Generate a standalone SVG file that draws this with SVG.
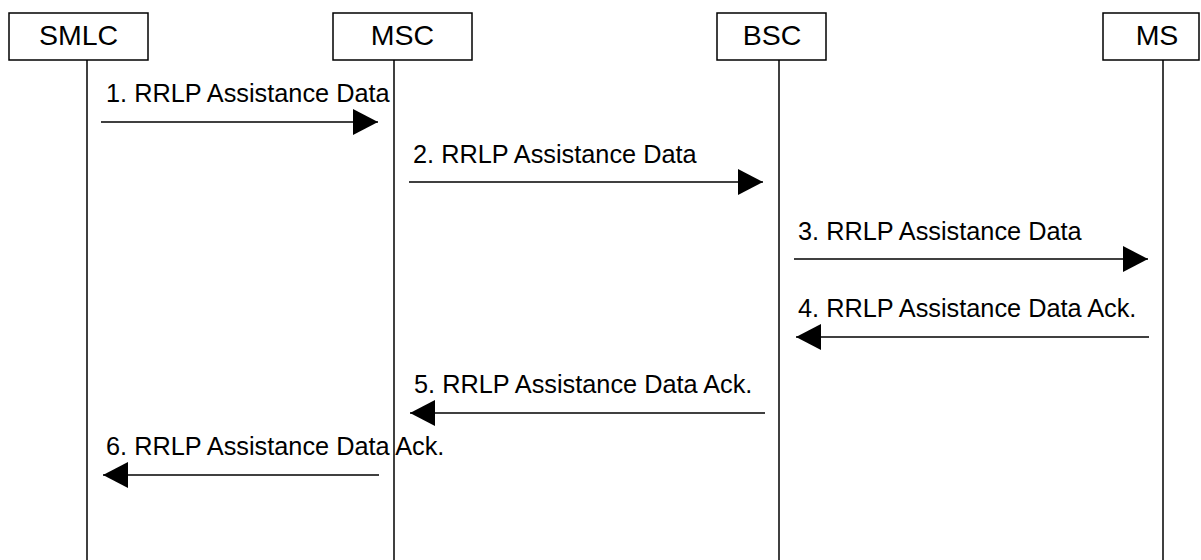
<svg xmlns="http://www.w3.org/2000/svg" width="1201" height="560" viewBox="0 0 1201 560">
<style>
.box{fill:#fff;stroke:#000;stroke-width:1.5}
.life{stroke:#000;stroke-width:1.5;fill:none}
.msg{stroke:#000;stroke-width:1.5;fill:none}
text{font-family:"Liberation Sans",Arial,sans-serif;font-size:25.3px;fill:#000}
.nm{text-anchor:middle;font-size:28.5px}
</style>
<defs>
<marker id="ah" markerUnits="userSpaceOnUse" markerWidth="26" markerHeight="26" viewBox="0 0 26 26" refX="25" refY="13" orient="auto">
<polygon points="0,0 25,13 0,26" fill="#000"/>
</marker>
</defs>
<rect width="1201" height="560" fill="#fff"/>
<g id="lifelines">
<line class="life" x1="87" y1="60" x2="87" y2="560"/>
<line class="life" x1="394" y1="60" x2="394" y2="560"/>
<line class="life" x1="779" y1="60" x2="779" y2="560"/>
<line class="life" x1="1163" y1="60" x2="1163" y2="560"/>
</g>
<g id="SMLC"><rect class="box" x="9" y="13" width="139" height="47"/><text class="nm" x="78.5" y="45">SMLC</text></g>
<g id="MSC"><rect class="box" x="333" y="13" width="139" height="47"/><text class="nm" x="402.5" y="45">MSC</text></g>
<g id="BSC"><rect class="box" x="717" y="13" width="109" height="47"/><text class="nm" x="772" y="45">BSC</text></g>
<g id="MS"><rect class="box" x="1103" y="13" width="96" height="47"/><text class="nm" x="1157" y="45">MS</text></g>
<g id="connectors">
<line class="msg" x1="101" y1="122" x2="378" y2="122" marker-end="url(#ah)"/>
<line class="msg" x1="409" y1="182" x2="763" y2="182" marker-end="url(#ah)"/>
<line class="msg" x1="794" y1="259" x2="1148" y2="259" marker-end="url(#ah)"/>
<line class="msg" x1="1149" y1="337" x2="796" y2="337" marker-end="url(#ah)"/>
<line class="msg" x1="765" y1="413" x2="410" y2="413" marker-end="url(#ah)"/>
<line class="msg" x1="379" y1="475" x2="103" y2="475" marker-end="url(#ah)"/>
</g>
<g id="labels">
<text x="106" y="102">1. RRLP Assistance Data</text>
<text x="413" y="163">2. RRLP Assistance Data</text>
<text x="798" y="240">3. RRLP Assistance Data</text>
<text x="798" y="317">4. RRLP Assistance Data Ack.</text>
<text x="414" y="393">5. RRLP Assistance Data Ack.</text>
<text x="106" y="455">6. RRLP Assistance Data Ack.</text>
</g>
</svg>
